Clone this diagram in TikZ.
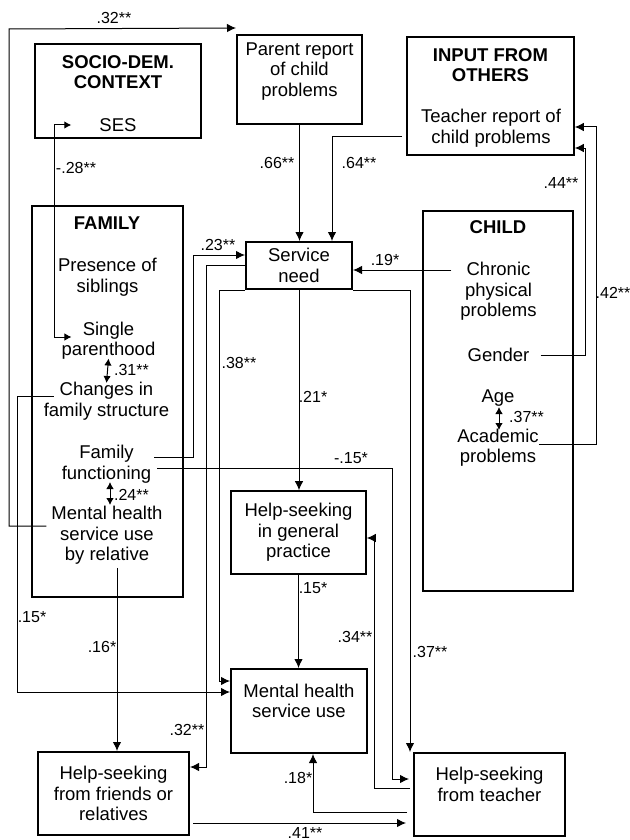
\documentclass[tikz,border=0pt]{standalone}
\usepackage{fontspec}
\setmainfont{Liberation Sans}
\usepackage{tikz}
\usetikzlibrary{arrows.meta,calc,positioning}

\newcommand\mainfnt{\fontsize{18.5}{20.5}\selectfont}
\newcommand\coeffnt{\fontsize{16}{17}\selectfont}

\tikzset{
  box/.style={draw,line width=2pt,inner sep=0pt,align=center,font=\mainfnt},
  group/.style={draw,line width=1.6pt,inner sep=0pt},
  item/.style={align=center,inner sep=3pt,font=\mainfnt},
  head/.style={item,font=\mainfnt\bfseries},
  coef/.style={inner sep=1pt,font=\coeffnt},
  effect/.style={line width=1pt,-{Latex[length=9pt,width=8.5pt]}},
  corr/.style={line width=1pt,{Latex[length=7pt,width=7.5pt]}-{Latex[length=7pt,width=7.5pt]}},
}

\begin{document}
\begin{tikzpicture}[x=1pt,y=-1pt]
\fill[white] (0,0) rectangle (629,840);
\useasboundingbox (0,0) rectangle (629,840);

% group frames
\node[group,line width=2pt,minimum width=166pt,minimum height=94pt] (sociofr) at (118,91) {};
\node[group,minimum width=167pt,minimum height=118pt] (inframe) at (490.5,96) {};
\node[group,line width=2pt,minimum width=151pt,minimum height=391pt] (famframe) at (107.5,401.5) {};
\node[group,minimum width=150pt,minimum height=380pt] (childfr) at (498,401) {};

% items in the frames
\node[head] (sociohd) at (118,72) {SOCIO-DEM.\\CONTEXT};
\node[item] (ses) at (118,125) {SES};
\node[head] (inhd) at (490.5,65) {INPUT FROM\\OTHERS};
\node[item] (trep) at (491,128) {Teacher report of\\child problems};
\node[head] (famhd) at (107,223) {FAMILY};
\node[item] (siblings) at (107.5,277) {Presence of\\siblings};
\node[item] (single) at (108.5,340.5) {Single\\parenthood};
\node[item] (changes) at (106.5,401) {Changes in\\family structure};
\node[item] (famfunc) at (106.5,464) {Family\\functioning};
\node[item] (mhrel) at (107,535.5) {Mental health\\service use\\by relative};
\node[head] (childhd) at (498,227) {CHILD};
\node[item] (chronic) at (498.5,291.5) {Chronic\\physical\\problems};
\node[item] (gender) at (498.5,355) {Gender};
\node[item] (age) at (498,398) {Age};
\node[item] (academic) at (498,447.5) {Academic\\problems};

% single boxes
\node[box,minimum width=125pt,minimum height=89pt] (parent) at (299.5,79.5) {Parent report\\of child\\problems\\ \mbox{}};
\node[box,minimum width=106pt,minimum height=47pt] (need) at (299,265.5) {Service\\need};
\node[box,line width=1.6pt,minimum width=135pt,minimum height=83pt] (gp) at (298.5,532.5) {Help-seeking\\in general\\practice};
\node[box,minimum width=136pt,minimum height=84pt] (mhsu) at (299,711) {Mental health\\service use\\ \mbox{}};
\node[box,minimum width=151pt,minimum height=83pt] (friends) at (113.5,793.5) {Help-seeking\\from friends or\\relatives};
\node[box,minimum width=151pt,minimum height=83pt] (hsteacher) at (489.5,794.5) {Help-seeking\\from teacher\\ \mbox{}};

% correlations
\draw[corr] ([xshift=13pt,yshift=3.5pt]single.west) -| (54,125) -- ([xshift=-25pt]ses.west);
\draw[corr] ($(single)+(0,18)$) -- ($(changes)+(0,-18)$);
\draw[corr] ($(famfunc)+(3.5,18)$) -- ($(mhrel)+(3,-30.5)$);
\draw[corr] ($(age)+(1,9)$) -- ($(academic)+(1,-17.5)$);

% paths
\draw[effect] ([xshift=-2pt,yshift=9.5pt]mhrel.west) -| (9,29) -- ([yshift=6pt]parent.north west);
\draw[effect] (parent.south) -- (parent.south |- need.north);
\draw[effect] ([xshift=-4pt,yshift=-40pt]inframe.west) -| ([xshift=33pt]need.north);
\draw[effect] ([xshift=8pt]gender.east) -| (585,148) -- ([yshift=-52pt]inframe.east);
\draw[effect] ([xshift=-3pt,yshift=3.5pt]academic.east) -| (596,127) -- ([yshift=-31pt]inframe.east);
\draw[effect] ([yshift=7pt]famfunc.east) -| (193,255) -- ([yshift=10.5pt]need.west);
\draw[effect] ([yshift=21.5pt,xshift=-6pt]chronic.west) -- ([yshift=-4.5pt]need.east);
\draw[effect] (need.west) -| (206,767) -- ([yshift=26.5pt]friends.east);
\draw[effect] (need.south west) -| (219,681) -- ([yshift=30pt]mhsu.west);
\draw[effect] (need.south) -- (need.south |- gp.north);
\draw[effect] (need.south east) -| ([xshift=-3pt]hsteacher.north west);
\draw[effect] ([xshift=13pt,yshift=5pt]changes.west) -| (17,692) -- ([yshift=19pt]mhsu.west);
\draw[effect] ([xshift=3pt,yshift=-4pt]famfunc.east) -| (392,779) -- ([xshift=-4pt,yshift=15.5pt]hsteacher.west);
\draw[effect] ([xshift=-3pt,yshift=6.5pt]hsteacher.west) -| (374,538) -- ([yshift=-5.5pt]gp.east);
\draw[effect] (gp.south) -- (gp.south |- mhsu.north);
\draw[effect] ([xshift=10pt]mhrel.south) -- ([xshift=3.5pt]friends.north);
\draw[effect] ([xshift=-6pt,yshift=-17.5pt]hsteacher.west) -| ([xshift=14pt]mhsu.south);
\draw[effect] ([xshift=3pt,yshift=-29.5pt]friends.east) -- ([xshift=-7pt,yshift=-28.5pt]hsteacher.west);

% coefficients
\node[coef] (c32a) at (114,18) {.32**};
\node[coef] (c28) at (76,168) {-.28**};
\node[coef] (c66) at (277,163) {.66**};
\node[coef] (c64) at (359,163) {.64**};
\node[coef] (c44) at (561,183) {.44**};
\node[coef] (c42) at (613,293) {.42**};
\node[coef] (c23) at (218,245) {.23**};
\node[coef] (c19) at (385,260) {.19*};
\node[coef] (c31) at (131.5,370) {.31**};
\node[coef] (c38) at (239,363) {.38**};
\node[coef] (c21) at (313,397) {.21*};
\node[coef] (c37a) at (526.5,417) {.37**};
\node[coef] (c24) at (131.5,495) {.24**};
\node[coef] (c15b) at (351,458) {-.15*};
\node[coef] (c15a) at (32,617) {.15*};
\node[coef] (c15c) at (313,588) {.15*};
\node[coef] (c34) at (355,637) {.34**};
\node[coef] (c37b) at (430,652) {.37**};
\node[coef] (c16) at (102,647) {.16*};
\node[coef] (c32b) at (187,730) {.32**};
\node[coef] (c18) at (298,778) {.18*};
\node[coef] (c41) at (305,832.5) {.41**};
\end{tikzpicture}
\end{document}
